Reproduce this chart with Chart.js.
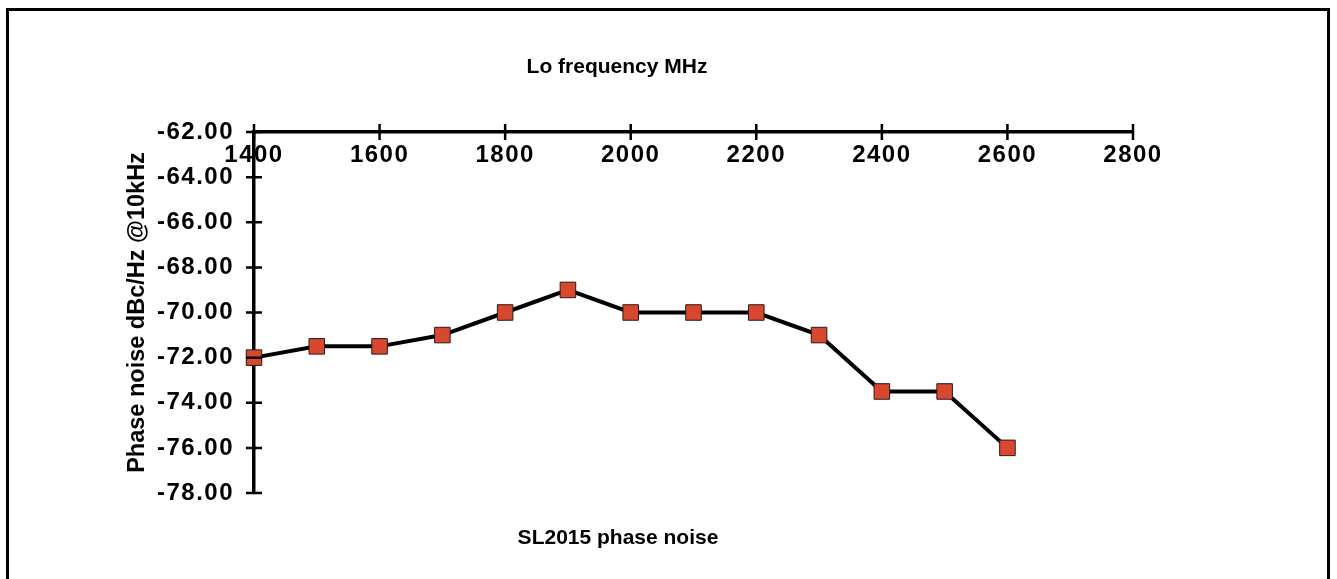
<!DOCTYPE html>
<html>
<head>
<meta charset="utf-8">
<script src="https://cdn.jsdelivr.net/npm/chart.js@4.4.1/dist/chart.umd.min.js"></script>
<style>
    html, body { margin: 0; padding: 0; background: #fff; overflow: hidden; }
    #frame {
        position: absolute; left: 6px; top: 8px; width: 1324px; height: 700px;
        border: 3px solid #000; box-sizing: border-box;
    }
    #wrap { position: absolute; left: 0; top: 0; width: 1337px; height: 579px; }
</style>
</head>
<body>
<div id="frame"></div>
<div id="wrap"><canvas id="noise"></canvas></div>
<script>
// LO frequency (MHz) and measured phase noise (dBc/Hz @10kHz)
const loFrequency = [1400, 1500, 1600, 1700, 1800, 1900, 2000, 2100, 2200, 2300, 2400, 2500, 2600];
const phaseNoise = [-72, -71.5, -71.5, -71, -70, -69, -70, -70, -70, -71, -73.5, -73.5, -76];

const xTicks = { min: 1400, max: 2800, step: 200 };
const yTicks = { min: -78, max: -62, step: 2 };

const topTitle = 'Lo frequency MHz';
const bottomTitle = 'SL2015 phase noise';
const yTitle = 'Phase noise dBc/Hz @10kHz';

const fontFamily = '"Liberation Sans", Arial, Helvetica, sans-serif';

let points = [];
for (let i = 0; i < loFrequency.length; i++) {
    points.push({ x: loFrequency[i], y: phaseNoise[i] });
}

// a bit of letter spacing on the tick numbers only (labels are drawn after the datasets)
const spacing = {
    id: 'spacing',
    beforeUpdate(chart) { chart.ctx.letterSpacing = '1.5px'; },
    beforeDraw(chart) { chart.ctx.letterSpacing = '0px'; },
    afterDatasetsDraw(chart) { chart.ctx.letterSpacing = '1.5px'; }
};

// tick marks that cross the axis lines + the two titles
const axisMarks = {
    id: 'axisMarks',
    afterDraw(chart) {
        const ctx = chart.ctx;
        const x = chart.scales.x;
        const y = chart.scales.y;
        const x0 = x.getPixelForValue(xTicks.min);
        const y0 = y.getPixelForValue(yTicks.max);
        ctx.save();
        ctx.strokeStyle = '#000';
        ctx.lineWidth = 2.5;
        ctx.beginPath();
        for (const t of x.ticks) {
            const px = x.getPixelForValue(t.value);
            ctx.moveTo(px, y0 - 8);
            ctx.lineTo(px, y0 + 8);
        }
        for (const t of y.ticks) {
            const py = y.getPixelForValue(t.value);
            ctx.moveTo(x0 - 8, py);
            ctx.lineTo(x0 + 8, py);
        }
        ctx.stroke();

        ctx.letterSpacing = '0px';
        ctx.fillStyle = '#000';
        ctx.font = 'bold 21px ' + fontFamily;
        ctx.textAlign = 'center';
        ctx.textBaseline = 'middle';
        ctx.fillText(topTitle, 617, 67);
        ctx.fillText(bottomTitle, 618, 538);
        ctx.restore();
    }
};

Chart.defaults.color = '#000';

const context = document.getElementById('noise').getContext('2d');
window.diagram = new Chart(context, {
    type: 'scatter',
    data: {
        datasets: [{
            data: points,
            showLine: true,
            borderColor: '#000',
            borderWidth: 4,
            pointStyle: 'rect',
            pointRadius: 11,
            pointHoverRadius: 11,
            pointBackgroundColor: '#d8472f',
            pointBorderColor: '#2a1a16',
            pointBorderWidth: 1,
            clip: false
        }]
    },
    plugins: [spacing, axisMarks],
    options: {
        responsive: true,
        maintainAspectRatio: false,
        animation: false,
        events: [],
        layout: { padding: { top: 132, bottom: 86, right: 204, left: 0 } },
        plugins: {
            legend: { display: false },
            title: { display: false },
            tooltip: { enabled: false }
        },
        scales: {
            x: {
                type: 'linear',
                position: { y: yTicks.max },
                min: xTicks.min,
                max: xTicks.max,
                afterFit(scale) { scale.height = 0; },
                border: { color: '#000', width: 3.5 },
                grid: { drawOnChartArea: false, drawTicks: false },
                ticks: {
                    z: 1,
                    stepSize: xTicks.step,
                    padding: 9,
                    maxRotation: 0,
                    autoSkip: false,
                    font: { family: fontFamily, size: 24, weight: 'bold' },
                    callback: (v) => String(v)
                }
            },
            y: {
                type: 'linear',
                position: 'left',
                min: yTicks.min,
                max: yTicks.max,
                afterFit(scale) { scale.width = 254; },
                border: { color: '#000', width: 3.5 },
                grid: { drawOnChartArea: false, drawTicks: false },
                ticks: {
                    z: 1,
                    stepSize: yTicks.step,
                    padding: 20,
                    autoSkip: false,
                    font: { family: fontFamily, size: 24, weight: 'bold' },
                    callback: (v) => v.toFixed(2)
                },
                title: {
                    display: true,
                    text: yTitle,
                    padding: { top: 123, bottom: 0 },
                    font: { family: fontFamily, size: 23.5, weight: 'bold' }
                }
            }
        }
    }
});
</script>
</body>
</html>
